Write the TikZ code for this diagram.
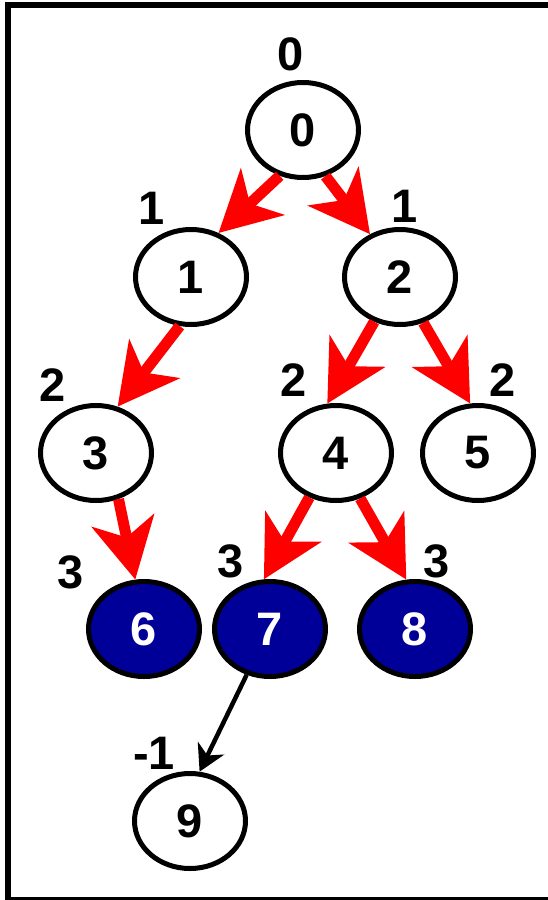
\documentclass[tikz,border=0pt]{standalone}
\usepackage{fontspec}
\setmainfont{Liberation Sans}
\usetikzlibrary{arrows.meta,shapes.geometric}
\definecolor{nodeblue}{RGB}{0,0,153}
\begin{document}
\begin{tikzpicture}[x=1pt,y=-1pt,
  tnode/.style={ellipse,draw=black,line width=5pt,fill=white,minimum width=111pt,minimum height=95pt,inner sep=0pt,font=\fontsize{47}{47}\selectfont\bfseries},
  leaf/.style={tnode,fill=nodeblue,text=white},
  depth/.style={font=\fontsize{47}{47}\selectfont\bfseries,inner sep=0pt},
  redarrow/.style={draw=red,fill=red,line width=11pt,-{Stealth[length=60pt,width=63pt,inset=17pt]}},
  blackarrow/.style={draw=black,line width=4.5pt,-{Stealth[length=26pt,width=29pt,inset=8pt]}}]
\useasboundingbox (0,0) rectangle (548,900);
\clip (0,0) rectangle (548,900);
\draw[line width=5.5pt] (560,4.8) -- (7.9,4.8) -- (7.9,899.5) -- (560,899.5);

\node[tnode] (n0) at (303,130) {0};
\node[tnode] (n1) at (191,277) {1};
\node[tnode] (n2) at (400,277) {2};
\node[tnode] (n3) at (96,453) {3};
\node[tnode] (n4) at (336,453) {4};
\node[tnode] (n5) at (478,453) {5};
\node[leaf] (n6) at (144,629) {6};
\node[leaf] (n7) at (270,629) {7};
\node[leaf] (n8) at (415,629) {8};
\node[tnode] (n9) at (190,821) {9};

\node[depth] (d0) at (291,54) {0};
\node[depth] (d1) at (152,208) {1};
\node[depth] (d2) at (405,206) {1};
\node[depth] (d3) at (53,385) {2};
\node[depth] (d4) at (294,380) {2};
\node[depth] (d5) at (503,380) {2};
\node[depth] (d6) at (71,572) {3};
\node[depth] (d7) at (231,561) {3};
\node[depth] (d8) at (437,561) {3};
\node[depth] (d9) at (154,753) {-1};

\draw[redarrow] (n0.243) -- (n1.58);
\draw[redarrow] (n0.296) -- (n2.125);
\draw[redarrow] (n1.257) -- (n3.65);
\draw[redarrow] (n2.240) -- (n4.100);
\draw[redarrow] (n2.297) -- (n5.99);
\draw[redarrow] (n3.296) -- (n6.100);
\draw[redarrow] (n4.239) -- (n7.97);
\draw[redarrow] (n4.298) -- (n8.100);
\draw[blackarrow] (n7.243) -- (n9.79);
\end{tikzpicture}
\end{document}
